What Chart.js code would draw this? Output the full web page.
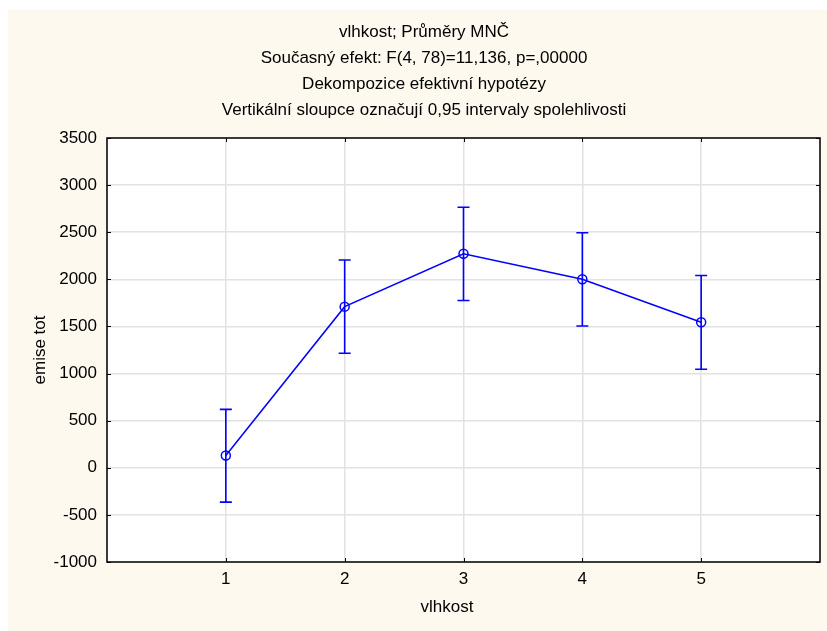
<!DOCTYPE html>
<html>
<head>
<meta charset="utf-8">
<script src="https://cdn.jsdelivr.net/npm/chart.js@4"></script>
<style>
  html, body { margin: 0; padding: 0; background: #ffffff; }
  #c { display: block; }
</style>
</head>
<body>
<canvas id="c" width="827" height="631"></canvas>
<script>
// Least-squares means of "emise tot" per level of "vlhkost", with 0.95 confidence limits
const categories = [1, 2, 3, 4, 5];
const means      = [130, 1710, 2272, 2000, 1545];
const lowerCI    = [-365, 1215, 1775, 1505, 1045];
const upperCI    = [620, 2205, 2765, 2495, 2040];
const yTickValues = [-1000, -500, 0, 500, 1000, 1500, 2000, 2500, 3000, 3500];
const titleLines = [
  'vlhkost; Průměry MNČ',
  'Současný efekt: F(4, 78)=11,136, p=,00000',
  'Dekompozice efektivní hypotézy',
  'Vertikální sloupce označují 0,95 intervaly spolehlivosti'
];
const xAxisTitle = 'vlhkost';
const yAxisTitle = 'emise tot';

const FONT = '"Liberation Sans", Arial, sans-serif';
const FONT_SIZE = 17;
const BLUE = '#0000ff';
const CREAM = '#fef9ee';

// Page background, cream panel and white plotting area
const backdrop = {
  id: 'backdrop',
  beforeDraw(chart) {
    const { ctx, chartArea: a } = chart;
    ctx.save();
    ctx.fillStyle = '#ffffff';
    ctx.fillRect(0, 0, chart.width, chart.height);
    ctx.fillStyle = CREAM;
    ctx.fillRect(8, 10, chart.width - 8, chart.height - 10);
    ctx.fillStyle = '#ffffff';
    ctx.fillRect(a.left, a.top, a.right - a.left, a.bottom - a.top);
    ctx.restore();
  }
};

// Vertical confidence-interval bars with caps
const errorBars = {
  id: 'errorBars',
  beforeDatasetsDraw(chart) {
    const { ctx, scales: { x, y } } = chart;
    ctx.save();
    ctx.strokeStyle = BLUE;
    ctx.lineWidth = 1.6;
    const cap = 6;
    categories.forEach((c, i) => {
      const px = x.getPixelForValue(c);
      const yl = y.getPixelForValue(lowerCI[i]);
      const yu = y.getPixelForValue(upperCI[i]);
      ctx.beginPath();
      ctx.moveTo(px, yu); ctx.lineTo(px, yl);
      ctx.moveTo(px - cap, yu); ctx.lineTo(px + cap, yu);
      ctx.moveTo(px - cap, yl); ctx.lineTo(px + cap, yl);
      ctx.stroke();
    });
    ctx.restore();
  }
};

// Frame, inward tick marks, titles
const frame = {
  id: 'frame',
  afterDraw(chart) {
    const { ctx, chartArea: a, scales: { x, y } } = chart;
    ctx.save();
    ctx.strokeStyle = '#000000';
    ctx.lineWidth = 1.5;
    ctx.strokeRect(a.left, a.top, a.right - a.left, a.bottom - a.top);
    ctx.lineWidth = 1;
    const t = 4;
    ctx.beginPath();
    categories.forEach(c => {
      const px = Math.round(x.getPixelForValue(c)) + 0.5;
      ctx.moveTo(px, a.bottom); ctx.lineTo(px, a.bottom - t);
      ctx.moveTo(px, a.top); ctx.lineTo(px, a.top + t);
    });
    yTickValues.forEach(v => {
      const py = Math.round(y.getPixelForValue(v)) + 0.5;
      ctx.moveTo(a.left, py); ctx.lineTo(a.left + t, py);
      ctx.moveTo(a.right, py); ctx.lineTo(a.right - t, py);
    });
    ctx.stroke();

    ctx.fillStyle = '#000000';
    ctx.font = FONT_SIZE + 'px ' + FONT;
    ctx.textAlign = 'center';
    ctx.textBaseline = 'middle';
    titleLines.forEach((line, i) => ctx.fillText(line, 424, 32 + i * 26));
    ctx.fillText(xAxisTitle, 447, 607);
    ctx.translate(40, 350);
    ctx.rotate(-Math.PI / 2);
    ctx.fillText(yAxisTitle, 0, 0);
    ctx.restore();
  }
};

new Chart(document.getElementById('c'), {
  type: 'line',
  data: {
    datasets: [{
      data: categories.map((c, i) => ({ x: c, y: means[i] })),
      borderColor: BLUE,
      borderWidth: 1.5,
      pointRadius: 4.5,
      pointBorderWidth: 1.5,
      pointBorderColor: BLUE,
      pointBackgroundColor: 'rgba(255,255,255,0)',
      tension: 0
    }]
  },
  options: {
    responsive: false,
    devicePixelRatio: 1,
    animation: false,
    events: [],
    layout: { padding: { top: 138, right: 6, bottom: 0, left: 0 } },
    plugins: { legend: { display: false }, tooltip: { enabled: false } },
    scales: {
      x: {
        type: 'linear',
        min: 0, max: 6,
        afterFit(s) { s.height = 69; },
        afterBuildTicks(s) { s.ticks = [0, ...categories, 6].map(v => ({ value: v })); },
        ticks: {
          callback: v => (categories.includes(v) ? String(v) : ''),
          color: '#000000', font: { family: FONT, size: FONT_SIZE }, padding: 7, maxRotation: 0
        },
        grid: { color: '#e2e2e2', lineWidth: 1.5, drawTicks: false },
        border: { display: false }
      },
      y: {
        type: 'linear',
        min: -1000, max: 3500,
        afterFit(s) { s.width = 107; },
        afterBuildTicks(s) { s.ticks = yTickValues.map(v => ({ value: v })); },
        ticks: {
          callback: v => String(v),
          color: '#000000', font: { family: FONT, size: FONT_SIZE }, padding: 10
        },
        grid: { color: '#e2e2e2', lineWidth: 1.5, drawTicks: false },
        border: { display: false }
      }
    }
  },
  plugins: [backdrop, errorBars, frame]
});
</script>
</body>
</html>
